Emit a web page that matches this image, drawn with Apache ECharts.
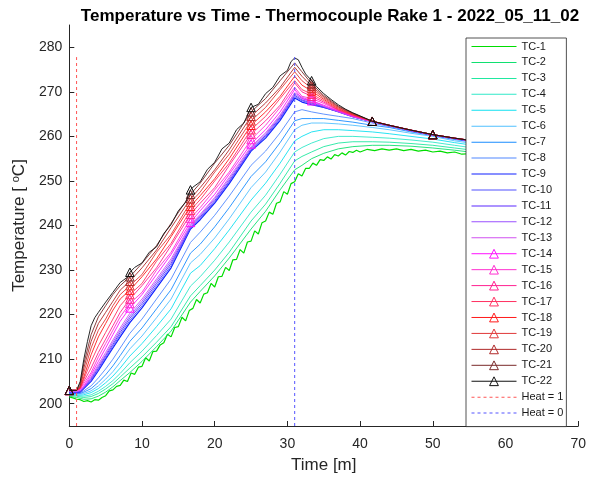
<!DOCTYPE html>
<html>
<head>
<meta charset="utf-8">
<script src="https://cdn.jsdelivr.net/npm/echarts@6/dist/echarts.min.js"></script>
<style>
html,body{margin:0;padding:0;background:#fff;}
#chart{width:589px;height:479px;}
</style>
</head>
<body>
<div id="chart"></div>
<script>
// ---- data ----
const time = [0,1,1.5,2,3,4,5,6,7,8.33,10,12,14,16.67,18,20,22,25,27,29,31,32,33.33,35,37,39,41.67,44,47,50,53,56,60,63];
const markerTimes = [0,8.33,16.67,25,33.33,41.67,50];

const tc1Time = [0,0.5,1,1.5,2,2.5,3,3.5,4,4.5,5,5.5,6,6.5,7,7.5,8,8.5,9,9.5,10,10.5,11,11.5,12,12.5,13,13.5,14,14.5,15,15.5,16,16.5,17,17.5,18,18.5,19,19.5,20,20.5,21,21.5,22,22.5,23,23.5,24,24.5,25,25.5,26,26.5,27,27.5,28,28.5,29,29.5,30,30.5,31,31.5,32,32.5,33,33.5,34,34.5,35,35.5,36,36.5,37,37.5,38,38.5,39,39.5,40,41,42,43,44,45,46,47,48,49,50,51,52,53,54,55,56,58,60,63];
const tc1  = [201.5,201.3,201.0,200.9,200.5,200.7,200.4,200.9,200.8,201.4,201.8,202.9,203.1,203.9,204.1,205.3,205.0,206.9,206.6,208.2,208.4,210.3,209.6,211.7,211.8,213.2,213.7,215.6,215.0,217.1,217.3,219.4,218.6,220.9,221.4,223.4,222.6,224.6,224.9,227.0,226.2,228.5,228.6,230.6,229.9,232.3,232.4,234.6,233.8,236.3,236.5,238.8,238.1,240.6,241.0,243.0,242.5,245.0,245.3,247.6,247.0,249.4,249.8,251.6,251.1,252.8,252.8,254.0,253.5,254.8,254.6,255.4,254.9,255.9,255.6,256.3,255.8,256.6,256.4,256.9,256.5,257.1,256.8,257.2,256.9,257.2,256.8,257.1,256.7,256.9,256.5,256.7,256.3,256.5,256.0,256.1,255.7,255.6,255.4,255.2];
const tc2  = [201.7,201.4,201.2,201,201.1,201.7,202.6,203.8,205.2,207,209.5,212.8,216.3,222.8,225.2,228.7,232.7,239.2,243.2,248,252.5,253.5,255,256.2,257.2,257.7,258,258,257.8,257.4,256.9,256.3,255.9,255.6];
const tc3  = [201.9,201.7,201.5,201.4,201.6,202.3,203.3,204.5,206,208,210.5,213.8,217.3,224.2,226.5,230,234,241,244.8,249.5,254.5,255.5,256.5,257.7,258.5,258.8,258.8,258.7,258.4,258,257.4,256.8,256.3,256];
const tc4  = [202,201.9,201.7,201.7,202,202.8,203.9,205.2,206.8,209.2,211.8,215.3,219,226.4,228.5,232.2,236.3,243,246.8,251.5,256.5,257.5,258.5,259.5,260,260,259.8,259.6,259.2,258.7,258,257.3,256.8,256.5];
const tc5  = [202.1,202,201.9,202,202.5,203.4,204.7,206.2,208,210.7,213.5,217.3,221.3,229.3,231,234.8,239,245.7,249.5,254,259,260,261,261.5,261.5,261.3,261,260.6,260,259.4,258.6,257.9,257.3,256.9];
const tc6  = [202.2,202.2,202.1,202.3,202.9,204,205.5,207.2,209.3,212.3,215.2,219.3,223.5,231.6,233.5,237.2,241.5,248.5,252,256.5,261.5,262.5,263,263,262.8,262.5,262,261.5,260.7,260,259,258.3,257.6,257.2];
const tc7  = [202.3,202.3,202.3,202.6,203.4,204.8,206.5,208.5,210.8,214,217,221.3,225.6,233.8,235.8,239.7,244,251,254.3,258.6,263.5,264,264,264,263.6,263.2,262.5,262,261,260.2,259.3,258.6,257.8,257.3];
const tc8  = [202.4,202.4,202.4,202.9,204,205.8,207.8,210,212.5,215.8,219,223.5,228,236.2,238.5,242.3,246.6,253.5,256.7,260.8,265.5,266,265.5,265,264.5,264,263,262.2,261.3,260.3,259.5,258.8,258,257.5];
const tc9  = [202.5,202.5,202.6,203.4,205,207.4,210,212.5,215,218.2,221.5,226,230.5,239.2,241.3,245,249.4,256.7,259.6,263.6,268.6,267.7,267.1,266.5,265.6,264.5,263.3,262.4,261.3,260.3,259.5,258.8,258,257.5];
const tc10 = [202.5,202.5,202.7,203.5,205.2,207.7,210.3,212.9,215.5,218.7,222,226.5,231,239.4,241.6,245.3,249.7,256.9,259.9,263.9,268.9,268,267.3,266.5,265.5,264.4,263.3,262.4,261.3,260.3,259.5,258.8,258,257.5];
const tc11 = [202.6,202.6,202.8,203.6,205.5,208,210.7,213.3,216,219.2,222.5,227,231.5,239.6,241.9,245.6,250,257.1,260.2,264.2,269.2,268.2,267.5,266.6,265.5,264.4,263.3,262.4,261.3,260.3,259.5,258.8,258,257.5];
const tc12 = [202.7,202.7,202.9,203.7,205.7,208.4,211,213.8,216.5,219.7,223,227.5,232,239.9,242.2,246,250.4,257.4,260.5,264.5,269.5,268.5,267.7,266.7,265.5,264.4,263.3,262.4,261.3,260.3,259.5,258.8,258,257.5];
const tc13 = [202.8,202.8,203,203.8,206,208.8,211.5,214.3,217,220.3,223.5,228,232.5,240.2,242.5,246.3,250.8,257.7,260.8,264.8,269.8,268.8,268,266.8,265.6,264.4,263.3,262.4,261.3,260.3,259.5,258.8,258,257.5];
const tc14 = [203,203,203.2,204,206.5,209.5,212.5,215.5,218.5,221.5,224.5,229,233.5,240.7,243.3,247,251.5,258.3,261.5,265.5,270.5,268.5,268,267,265.7,264.5,263.4,262.5,261.4,260.4,259.6,258.9,258.1,257.6];
const tc15 = [203,203,203.3,204.5,207,210.5,213.5,216.5,219.5,222.5,225,230,234,241.6,244,248,252,259.3,262.5,266.5,271,269,268.5,267.4,265.8,264.6,263.4,262.5,261.4,260.4,259.6,258.9,258.1,257.6];
const tc16 = [203,203,203.4,205,208,211.5,214.5,217.5,220.5,223.5,226.5,230.5,235.5,242.5,245,248.5,253.5,260.5,263.5,267,272,270,269,267.7,265.9,264.7,263.4,262.5,261.4,260.4,259.6,258.9,258.1,257.6];
const tc17 = [203,203,203.5,205.5,209.5,213,216,219,222,224.5,227,232,236,243.4,245.8,250,254,261.5,264.5,268.5,272.5,270.5,269.5,268,266,264.8,263.4,262.5,261.4,260.4,259.6,258.9,258.1,257.6];
const tc18 = [203,203,203.6,206,211,215,218,221,223.5,225.5,228.5,232.5,237.5,244.3,246.7,250.5,255,262.5,265.5,269,273.5,271.5,270.2,268.3,266.2,264.9,263.4,262.5,261.4,260.4,259.6,258.9,258.1,257.6];
const tc19 = [203,203,203.8,207,212.5,216.5,219,222,224.5,226.5,229,234,238,245.2,247.5,252,256,263.5,266.5,270.5,274.5,272.5,270.8,268.6,266.4,265,263.4,262.5,261.4,260.4,259.6,258.9,258.1,257.6];
const tc20 = [203,203,204,208,214,218,220.5,223,225.5,227.5,230.5,234.5,239.5,246,248.5,252.5,257,264.5,267.5,271,275.5,273.5,271.3,268.9,266.6,265.1,263.4,262.5,261.4,260.4,259.6,258.9,258.1,257.6];
const tc21 = [203,203,204.5,209,215.5,219.5,222,224.5,226.5,228.5,231.5,235.5,240.5,247,249.5,254,258,265.5,268.5,272.5,276.5,274.5,271.8,269.2,266.8,265.2,263.4,262.5,261.4,260.4,259.6,258.9,258.1,257.6];
const tc22Time = [0,1,1.5,2,2.5,3,3.5,4,5,6,7,8,8.33,9,10,11,12,13,14,15,16,16.67,17,18,19,20,21,22,23,24,25,26,27,28,29,30,30.5,31,31.5,32,32.5,33.33,34,35,36,37,38,39,40,41.67,44,47,50,53,56,60,63];
const tc22 = [203,203,205,210,214,217.5,219.3,220.5,222.8,225,227.2,228.4,229.5,230.6,231.6,234,235.2,238.2,240.2,243.3,245.2,248,248.6,249.8,252.6,254.2,257.2,258.5,261.5,263,266.5,267.2,269.6,271,273.6,274.8,276.8,277.6,277.2,275.5,274,272.5,271.2,269.6,268.3,267.1,266.1,265.3,264.6,263.4,262.5,261.4,260.4,259.6,258.9,258.1,257.6];

const seriesNames = ['TC-1','TC-2','TC-3','TC-4','TC-5','TC-6','TC-7','TC-8','TC-9','TC-10','TC-11','TC-12','TC-13','TC-14','TC-15','TC-16','TC-17','TC-18','TC-19','TC-20','TC-21','TC-22'];
const seriesValues = [tc1,tc2,tc3,tc4,tc5,tc6,tc7,tc8,tc9,tc10,tc11,tc12,tc13,tc14,tc15,tc16,tc17,tc18,tc19,tc20,tc21,tc22];
const seriesColors = ['#00dd00','#10e070','#20e8a0','#30e8c8','#10e0f0','#50c0ff','#1a8cff','#5088ff','#1020ff','#5050ff','#5a28ff','#9a50ff','#d050f0','#ff10ff','#ff30d0','#ff2090','#ff3060','#ff1a1a','#e03838','#b02828','#7a2a2a','#101010'];

const heatNames = ['Heat = 1','Heat = 0'];
const heatTimes = [1, 31];
const heatColors = ['#ff5555','#5555ff'];
const heatSpan = [195, 277.8];

const yTicks = [200,210,220,230,240,250,260,270,280];

// ---- chart ----
const FONT = '"Liberation Sans", Arial, Helvetica, sans-serif';
const chart = echarts.init(document.getElementById('chart'), null, {renderer:'canvas'});

function timesFor(i) {
  if (i === 0) return tc1Time;
  if (i === 21) return tc22Time;
  return time;
}
const LINE_ICON = 'path://M0,0H45V1H0Z';
const DASH_ICON = 'path://M0,0h3v1h-3z M6,0h3v1h-3z M12,0h3v1h-3z M18,0h3v1h-3z M24,0h3v1h-3z M30,0h3v1h-3z M36,0h3v1h-3z M42,0h3v1h-3z';

const series = [];
const legendData = [];
seriesNames.forEach((name, i) => {
  const vals = seriesValues[i];
  const ts = timesFor(i);
  const withMarker = i >= 13;
  const data = ts.map((t, k) => {
    if (!withMarker) return [t, vals[k]];
    if (markerTimes.indexOf(t) >= 0) return [t, vals[k]];
    return {value: [t, vals[k]], symbol: 'none'};
  });
  series.push({
    name: name,
    type: 'line',
    data: data,
    symbol: withMarker ? 'triangle' : 'none',
    symbolSize: 8.5,
    showSymbol: withMarker,
    showAllSymbol: true,
    animation: false,
    lineStyle: {color: seriesColors[i], width: (i === 8 || i === 0) ? 1.2 : 0.9},
    itemStyle: withMarker
      ? {color: 'rgba(255,255,255,0)', borderColor: seriesColors[i], borderWidth: 1}
      : {color: seriesColors[i]},
    emphasis: {disabled: true},
    z: 2 + i * 0.01
  });
  legendData.push(withMarker ? {name: name} : {name: name, icon: LINE_ICON});
});
heatNames.forEach((name, i) => {
  series.push({
    name: name,
    type: 'line',
    data: heatSpan.map(v => [heatTimes[i], v]),
    symbol: 'none',
    animation: false,
    lineStyle: {color: heatColors[i], width: 1, type: [3, 3]},
    itemStyle: {color: heatColors[i]},
    emphasis: {disabled: true},
    z: 3
  });
  legendData.push({name: name, icon: DASH_ICON});
});

const option = {
  backgroundColor: '#fff',
  animation: false,
  textStyle: {fontFamily: FONT},
  title: {
    text: 'Temperature vs Time - Thermocouple Rake 1 - 2022_05_11_02',
    left: 325, top: 3, textAlign: 'center',
    textStyle: {fontFamily: FONT, fontSize: 17, fontWeight: 'bold', color: '#000'}
  },
  grid: {left: 69.3, right: 7, top: 25, bottom: 50.7, containLabel: false},
  legend: {
    orient: 'vertical',
    left: 466, top: 38,
    padding: [3, 3, 8, 5],
    itemWidth: 45, itemHeight: 11, itemGap: 4.94,
    backgroundColor: '#fff',
    borderColor: '#262626', borderWidth: 0.8,
    selectedMode: false,
    symbolKeepAspect: true,
    lineStyle: {width: 1},
    itemStyle: {borderWidth: 1},
    textStyle: {fontFamily: FONT, fontSize: 11, color: '#1a1a1a', lineHeight: 11},
    data: legendData
  },
  xAxis: {
    type: 'value', min: 0, max: 70, interval: 10,
    name: 'Time [m]', nameLocation: 'middle', nameGap: 31,
    nameTextStyle: {fontFamily: FONT, fontSize: 17, color: '#262626'},
    axisLine: {lineStyle: {color: '#262626', width: 1}},
    axisTick: {inside: true, length: 5, lineStyle: {color: '#262626'}},
    axisLabel: {fontFamily: FONT, fontSize: 14, color: '#262626', margin: 11},
    splitLine: {show: false}
  },
  yAxis: {
    type: 'value', min: 195, max: 285,
    name: 'Temperature [ {sup|o}C]', nameLocation: 'middle', nameGap: 30, nameRotate: 90,
    nameTextStyle: {fontFamily: FONT, fontSize: 17, color: '#262626',
      rich: {sup: {fontFamily: FONT, fontSize: 11, color: '#262626', verticalAlign: 'top', padding: [0, 0, 7, 0]}}},
    axisLine: {show: true, lineStyle: {color: '#262626', width: 1}},
    axisTick: {show: true, inside: true, length: 5, customValues: yTicks, lineStyle: {color: '#262626'}},
    axisLabel: {fontFamily: FONT, fontSize: 14, color: '#262626', margin: 7, customValues: yTicks},
    splitLine: {show: false}
  },
  series: series
};
chart.setOption(option);
</script>
</body>
</html>
